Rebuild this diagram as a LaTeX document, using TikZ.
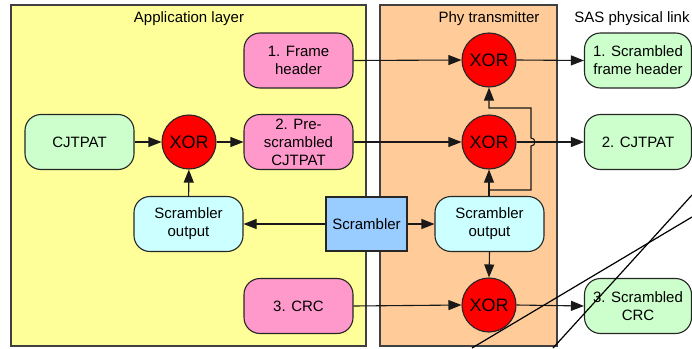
\documentclass[tikz,border=0pt]{standalone}
\usepackage{fontspec}
\setmainfont{Liberation Sans}
\usetikzlibrary{arrows.meta}
\definecolor{appy}{HTML}{FFFF99}
\definecolor{phyo}{HTML}{FFCC99}
\definecolor{pinkb}{HTML}{FF99CC}
\definecolor{greenb}{HTML}{CCFFCC}
\definecolor{cyanb}{HTML}{CCFFFF}
\definecolor{blueb}{HTML}{99CCFF}
\tikzset{
  layer/.style={draw=black!75, line width=1.1pt},
  box/.style={draw=black!85, line width=1.1pt, rounded corners=16pt, minimum width=109pt, minimum height=55pt, inner sep=0pt, align=center, font=\fontsize{15}{18}\selectfont},
  pinkbox/.style={box, fill=pinkb},
  greenbox/.style={box, fill=greenb},
  cyanbox/.style={box, fill=cyanb},
  xor/.style={circle, draw=black!85, line width=1.1pt, fill=red, minimum size=54pt, inner sep=0pt, font=\fontsize{18}{20}\selectfont},
  scrbox/.style={draw=black!85, line width=1.1pt, fill=blueb, minimum width=81pt, minimum height=54pt, inner sep=0pt, font=\fontsize{15}{18}\selectfont},
  title/.style={font=\fontsize{15}{17}\selectfont, inner sep=0pt},
  conn/.style={line width=1.1pt, draw=black!90},
  arr/.style={conn, -{Triangle[length=13pt,width=10pt]}},
  brk/.style={line width=1.2pt, draw=black}
}
\begin{document}
\begin{tikzpicture}[x=1pt,y=-1pt]
\useasboundingbox (0,0) rectangle (692,348);
\fill[white] (0,0) rectangle (692,348);
% layers
\draw[layer, fill=appy] (11,5) rectangle (366,346);
\draw[layer, fill=phyo] (380,5) rectangle (557,346);
\node[title] (tapp) at (189,19) {Application layer};
\node[title] (tphy) at (489,19) {Phy transmitter};
\node[title] (tsas) at (632,19) {SAS physical link};
% nodes
\node[pinkbox] (fh) at (298.5,60.5) {1. Frame\\header};
\node[greenbox] (cj) at (79.5,142) {CJTPAT};
\node[xor] (xl) at (189,142) {XOR};
\node[pinkbox] (pre) at (298.5,142) {2. Pre-\\scrambled\\CJTPAT};
\node[cyanbox] (sol) at (188.5,224) {Scrambler\\output};
\node[pinkbox] (crc) at (298.5,306) {3. CRC};
\node[scrbox] (scr) at (366.5,224) {Scrambler};
\node[xor] (x1) at (489,60) {XOR};
\node[xor] (x2) at (489,142) {XOR};
\node[xor] (x3) at (489,305) {XOR};
\node[cyanbox] (sor) at (489.5,224) {Scrambler\\output};
\node[greenbox, minimum width=107pt] (g1) at (638,60.5) {1. Scrambled\\frame header};
\node[greenbox, minimum width=107pt] (g2) at (638,142) {2. CJTPAT};
\node[greenbox, minimum width=107pt] (g3) at (638,306) {3. Scrambled\\CRC};
% connectors
\draw[arr] (cj) -- (xl);
\draw[arr] (xl) -- (pre);
\draw[arr] (sol) -- (xl);
\draw[arr] (scr) -- (sol);
\draw[arr] (scr) -- (sor);
\draw[arr] (fh.east) -- (x1.west);
\draw[arr] (pre.east) -- (x2.west);
\draw[arr] (crc.east) -- (x3.west);
\draw[arr] (x1.east) -- (g1.west);
\draw[arr] (x2.east) -- (g2.west);
\draw[arr] (x3.east) -- (g3.west);
\draw[arr] (sor.south) -- (x3.north);
\coordinate (j0) at (489,190);
\coordinate (j1) at (531,190);
\coordinate (j1b) at (531,146);
\coordinate (j2) at (531,108);
\coordinate (j3) at (489,108);
\draw[arr] (sor.north -| j0) -- (x2.south);
\draw[arr] (j0) -- (j1) -- (j1b) arc[start angle=-90, end angle=90, radius=4pt] -- (j2) -- (j3) -- (x1.south);
% break marks
\coordinate (bA1) at (472,348);
\coordinate (bA2) at (692,217);
\coordinate (bB1) at (553,348);
\coordinate (bB2) at (692,195);
\draw[brk] (bA1) -- (bA2);
\draw[brk] (bB1) -- (bB2);
\end{tikzpicture}
\end{document}
